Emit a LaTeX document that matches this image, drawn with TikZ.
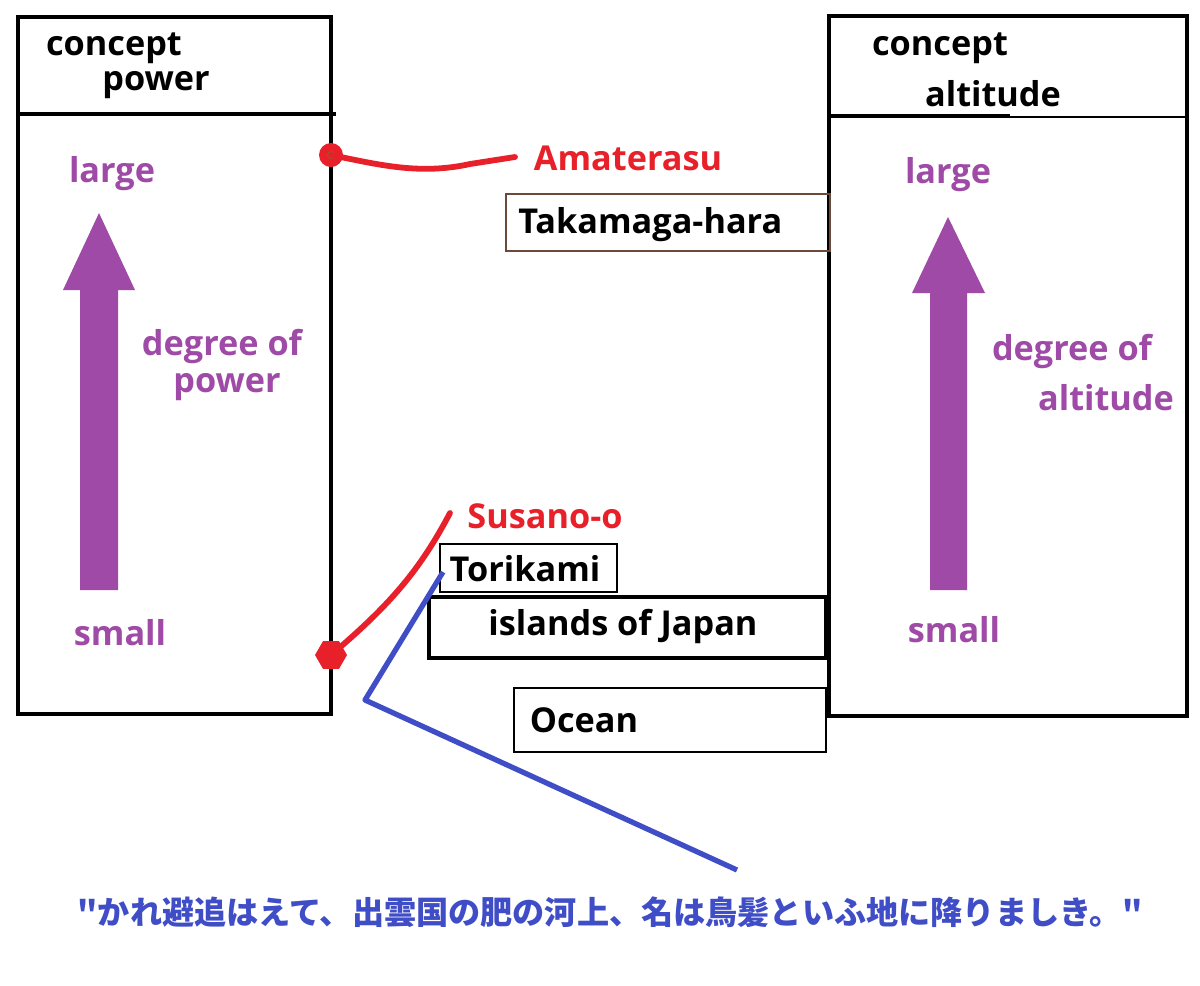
\documentclass[tikz,border=0pt]{standalone}
\usepackage{fontspec}
\setmainfont{Open Sans}
\newfontfamily\jpfont{Noto Sans CJK JP}
\usetikzlibrary{shapes.geometric}
\definecolor{pur}{HTML}{9E4AA6}
\definecolor{redc}{HTML}{E8202A}
\definecolor{bluec}{HTML}{3F4DC6}
\definecolor{brownc}{HTML}{6B4A3A}
\tikzset{
  lbl/.style={font=\fontsize{19.5}{21}\selectfont\bfseries, inner sep=0pt},
  purlbl/.style={lbl, text=pur},
  redlbl/.style={lbl, text=redc},
  thick box/.style={draw=black, line width=2.3pt},
  thin box/.style={draw=black, line width=1.2pt},
  bigarrow/.style={fill=pur, draw=none},
}
\begin{document}
\begin{tikzpicture}[x=0.02cm,y=-0.02cm]
\useasboundingbox[fill=white] (0,0) rectangle (1200,985);

% left concept box
\draw[thick box] (18,17) rectangle (331,714);
\draw[thick box] (18,114) -- (336,114);
\node[lbl] (c1) at (114,48) {concept};
\node[lbl] (p1) at (156,85) {power};
\node[purlbl] (large1) at (112,174) {large};
\node[purlbl] (deg1) at (222,346) {degree of};
\node[purlbl] (pw1) at (227,387) {power};
\node[purlbl] (small1) at (120,633) {small};
\fill[bigarrow] (80,590) -- (80,290) -- (63,290) -- (99,213) -- (135,290) -- (118,290) -- (118,590) -- cycle;

% right concept box
\draw[thick box] (829,16) rectangle (1187,716);
\draw[thick box] (829,116) -- (1010,116);
\draw[line width=1.5pt] (1010,117) -- (1187,117);
\node[lbl] (c2) at (940,48) {concept};
\node[lbl] (a2) at (993,94) {altitude};
\node[purlbl] (large2) at (948,175) {large};
\node[purlbl] (deg2) at (1072,351) {degree of};
\node[purlbl] (al2) at (1106,398) {altitude};
\node[purlbl] (small2) at (954,630) {small};
\fill[bigarrow] (930,590) -- (930,293) -- (912,293) -- (948,217) -- (985,293) -- (967,293) -- (967,590) -- cycle;

% middle boxes
\node[draw=brownc, line width=1.2pt, minimum width=324*0.02cm, minimum height=57*0.02cm, inner sep=0pt] (taka) at (668,222.5) {};
\node[lbl, anchor=west] (takat) at (518,225) {Takamaga-hara};

\node[thin box, minimum width=177*0.02cm, minimum height=48*0.02cm, inner sep=0pt] (tori) at (528.5,568) {};
\node[lbl] (torit) at (525,569) {Torikami};

\node[thick box, minimum width=397*0.02cm, minimum height=61*0.02cm, inner sep=0pt] (isl) at (627.5,627.5) {};
\node[lbl] (islt) at (623,626) {islands of Japan};

\node[thin box, minimum width=312*0.02cm, minimum height=64*0.02cm, inner sep=0pt] (ocean) at (670,720) {};
\node[lbl] (oceant) at (584,720) {Ocean};

% red labels and connectors
\node[redlbl] (amat) at (628,158) {Amaterasu};
\node[redlbl] (susa) at (545,516) {Susano-o};
\node[circle, fill=redc, minimum size=24*0.02cm, inner sep=0pt] (dotA) at (331,155) {};
\fill[brownc!70!orange] (dotA) circle[radius=4];
\node[regular polygon, regular polygon sides=6, fill=redc, minimum size=32*0.02cm, inner sep=0pt] (dotS) at (331,655) {};
\draw[redc, line width=3.3pt, line cap=round] (dotA.center) .. controls (380,165) and (420,175) .. (470,164) -- (515,157);
\draw[redc, line width=3.3pt, line cap=round] (dotS.center) .. controls (390,605) and (420,570) .. (450,513);

% blue connector
\coordinate (bcorner) at (365,700);
\coordinate (bend) at (737,870);
\draw[bluec, line width=3pt, line join=round] (443,572) -- (bcorner) -- (bend);

% Japanese quote
\node[font=\jpfont\fontsize{18.3}{20}\selectfont\bfseries, text=bluec, inner sep=0pt] (quote) at (610,912) {"かれ避追はえて、出雲国の肥の河上、名は鳥髪といふ地に降りましき。"};
\end{tikzpicture}
\end{document}
